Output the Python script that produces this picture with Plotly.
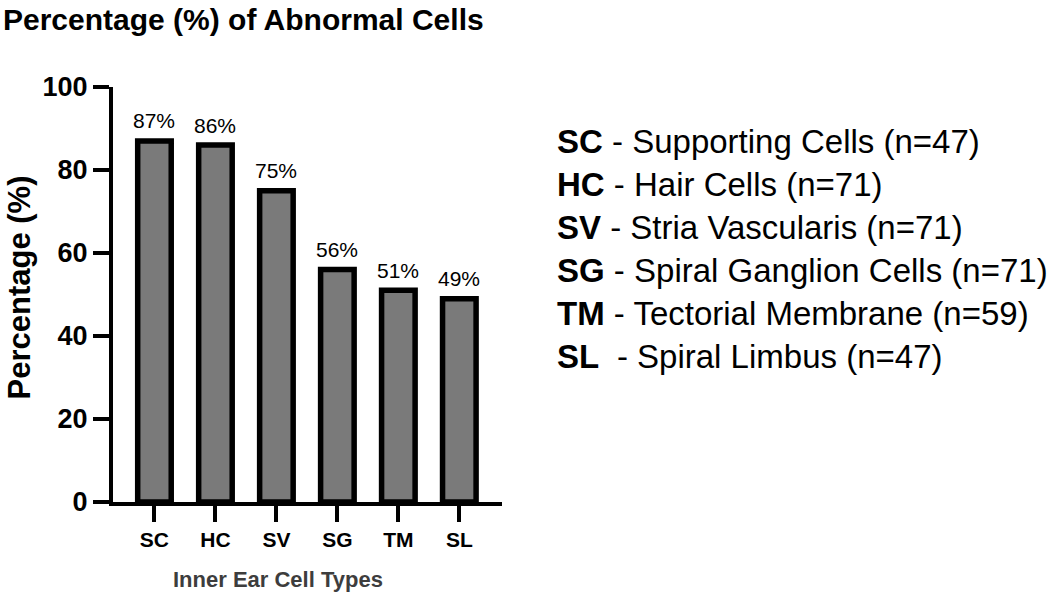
import plotly.graph_objects as go

categories = ["SC", "HC", "SV", "SG", "TM", "SL"]
values = [87, 86, 75, 56, 51, 49]
value_labels = ["87%", "86%", "75%", "56%", "51%", "49%"]
legend_abbr = ["SC", "HC", "SV", "SG", "TM", "SL "]
legend_desc = ["Supporting Cells (n=47)", "Hair Cells (n=71)", "Stria Vascularis (n=71)",
               "Spiral Ganglion Cells (n=71)", "Tectorial Membrane (n=59)", "Spiral Limbus (n=47)"]
y_ticks = [0, 20, 40, 60, 80, 100]

FONT = "Arial, Liberation Sans, Helvetica, sans-serif"
W, H = 1050, 593
L, R, T, B = 113, 502, 87, 502  # plot area in pixels


def px_x(X):
    return (X - L) / (R - L)


def px_y(Y):
    return (B - Y) / (B - T)


fig = go.Figure()
fig.add_trace(go.Bar(
    x=categories, y=values, width=0.55,
    marker=dict(color="#7a7a7a", line=dict(color="black", width=5.5)),
    hoverinfo="x+y",
))

annotations = []
for c, v, t in zip(categories, values, value_labels):
    annotations.append(dict(x=c, y=v, xref="x", yref="y", text=t, showarrow=False,
                            yanchor="middle", yshift=20,
                            font=dict(family=FONT, size=21, color="black")))

legend_text = "<br>".join(f"<b>{a}</b> - {d}" for a, d in zip(legend_abbr, legend_desc))
annotations.append(dict(x=px_x(555), y=px_y(249), xref="paper", yref="paper", text=legend_text,
                        showarrow=False, xanchor="left", yanchor="middle", align="left",
                        font=dict(family=FONT, size=33, color="black")))
annotations.append(dict(x=px_x(278), y=px_y(579), xref="paper", yref="paper",
                        text="<b>Inner Ear Cell Types</b>", showarrow=False,
                        xanchor="center", yanchor="middle",
                        font=dict(family=FONT, size=22, color="#3d3d3d")))
annotations.append(dict(x=px_x(0), y=px_y(288), xref="paper", yref="paper",
                        text="<b>Percentage (%)</b>", showarrow=False, textangle=-90,
                        xanchor="left", yanchor="middle", borderpad=0,
                        font=dict(family=FONT, size=31, color="black")))
annotations.append(dict(x=px_x(1), y=px_y(19), xref="paper", yref="paper",
                        text="<b>Percentage (%) of Abnormal Cells</b>", showarrow=False,
                        xanchor="left", yanchor="middle",
                        font=dict(family=FONT, size=30, color="black")))

fig.update_layout(
    width=W, height=H,
    margin=dict(l=L, r=W - R, t=T, b=H - B, pad=0),
    paper_bgcolor="white", plot_bgcolor="white",
    showlegend=False,
    xaxis=dict(range=[-0.68, 5.70], showline=True, linecolor="black", linewidth=4,
               ticks="outside", ticklen=16, tickwidth=4, tickcolor="black",
               showgrid=False, zeroline=False,
               tickvals=categories, ticktext=[f"<b>{c}</b>" for c in categories],
               tickfont=dict(family=FONT, size=21, color="black")),
    yaxis=dict(range=[0, 100], tickvals=y_ticks, ticktext=[f"<b>{v}</b>" for v in y_ticks],
               showline=True, linecolor="black", linewidth=4,
               ticks="outside", ticklen=16, tickwidth=4, tickcolor="black",
               showgrid=False, zeroline=False,
               tickfont=dict(family=FONT, size=27, color="black")),
    annotations=annotations,
)

fig.write_html("out.html", config={"displayModeBar": False},
               post_script="document.body.style.margin='0';")
